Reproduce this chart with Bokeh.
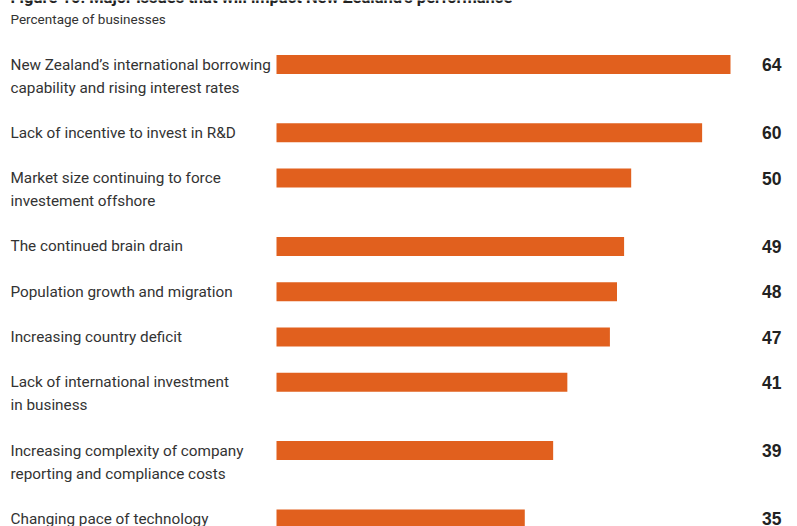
from bokeh.plotting import figure
from bokeh.models import Range1d
from bokeh.core.properties import value
from bokeh.embed import file_html
from bokeh.resources import INLINE

# ---- data ----
title = "Figure 10: Major issues that will impact New Zealand\u2019s performance"
subtitle = "Percentage of businesses"
issues = [
    "New Zealand\u2019s international borrowing\ncapability and rising interest rates",
    "Lack of incentive to invest in R&D",
    "Market size continuing to force\ninvestement offshore",
    "The continued brain drain",
    "Population growth and migration",
    "Increasing country deficit",
    "Lack of international investment\nin business",
    "Increasing complexity of company\nreporting and compliance costs",
    "Changing pace of technology",
]
shares = [64, 60, 50, 49, 48, 47, 41, 39, 35]

# ---- layout (pixels) ----
W, H = 797, 526
X0_PX = 276.0          # pixel where value 0 sits
PX_PER_UNIT = 454.0 / 64.0
FIRST_Y = 64.0
ROW_GAP = 45.3
LINE_H = 23.0
BAR_H = 19.0
BAR_COLOR = "#E1601E"
FONT = "Roboto"

def px_to_x(px):
    return (px - X0_PX) / PX_PER_UNIT

# row centres follow the number of lines in each label
centres = []
y = FIRST_Y
for lab in issues:
    centres.append(y)
    y += ROW_GAP + LINE_H * (lab.count("\n"))

p = figure(width=W, height=H, output_backend="svg", toolbar_location=None,
           x_range=Range1d(px_to_x(0), px_to_x(W)), y_range=Range1d(H, 0),
           min_border=0, min_border_left=0, min_border_right=0,
           min_border_top=0, min_border_bottom=0)
p.axis.visible = False
p.grid.visible = False
p.outline_line_color = None
p.background_fill_color = "white"
p.border_fill_color = "white"

p.hbar(y=centres, left=0, right=shares, height=BAR_H, color=BAR_COLOR, line_color=None)

# labels, one text per line
lx, ly, lt = [], [], []
for c, lab in zip(centres, issues):
    for j, line in enumerate(lab.split("\n")):
        lx.append(px_to_x(10))
        ly.append(c + LINE_H * j)
        lt.append(line)
p.text(x=lx, y=ly, text=lt, text_font=value(FONT), text_font_size="15.3px",
       text_color="#333333", text_baseline="middle", text_align="left")

# values
p.text(x=[px_to_x(781)] * len(shares), y=centres, text=[str(v) for v in shares],
       text_font=value("Liberation Sans"), text_font_size="17.5px", text_font_style="bold",
       text_color="#222222", text_baseline="middle", text_align="right")

# title (cut at the top edge) and subtitle
p.text(x=[px_to_x(10)], y=[-3], text=[title], text_font=value(FONT),
       text_font_size="16.5px", text_font_style="bold", text_color="#222222",
       text_baseline="alphabetic", text_align="left")
p.text(x=[px_to_x(10)], y=[18.5], text=[subtitle], text_font=value(FONT),
       text_font_size="13.5px", text_color="#333333",
       text_baseline="middle", text_align="left")

open("out.html", "w").write(file_html(p, INLINE))
